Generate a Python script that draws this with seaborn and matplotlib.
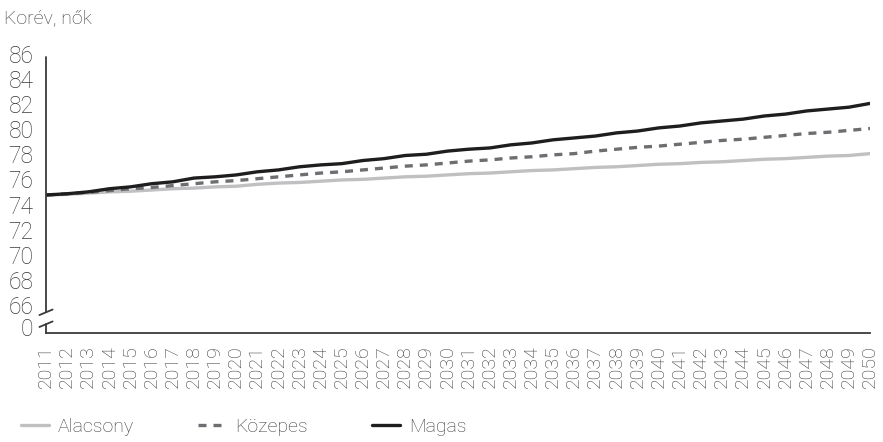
import matplotlib.pyplot as plt
import matplotlib.transforms as mtransforms
import pandas as pd
import seaborn as sns

years = list(range(2011, 2051))

alacsony = [75.0, 75.05, 75.15, 75.25, 75.3, 75.4, 75.5, 75.55, 75.65, 75.7,
            75.85, 75.95, 76.0, 76.1, 76.2, 76.25, 76.35, 76.45, 76.5, 76.6,
            76.7, 76.75, 76.85, 76.95, 77.0, 77.1, 77.2, 77.25, 77.35, 77.45,
            77.5, 77.6, 77.65, 77.75, 77.85, 77.9, 78.0, 78.1, 78.15, 78.3]
kozepes = [75.0, 75.1, 75.2, 75.35, 75.5, 75.6, 75.75, 75.9, 76.05, 76.15,
           76.3, 76.45, 76.6, 76.75, 76.85, 77.0, 77.15, 77.3, 77.4, 77.55,
           77.7, 77.8, 77.95, 78.05, 78.2, 78.3, 78.5, 78.65, 78.8, 78.9,
           79.05, 79.2, 79.35, 79.45, 79.6, 79.75, 79.9, 80.0, 80.15, 80.3]
magas = [75.0, 75.1, 75.25, 75.5, 75.65, 75.9, 76.05, 76.35, 76.45, 76.6,
         76.85, 77.0, 77.25, 77.4, 77.5, 77.75, 77.9, 78.15, 78.25, 78.5,
         78.65, 78.75, 79.0, 79.15, 79.4, 79.55, 79.7, 79.95, 80.1, 80.35,
         80.5, 80.75, 80.9, 81.05, 81.3, 81.45, 81.7, 81.85, 82.0, 82.3]

series_names = ["Alacsony", "Közepes", "Magas"]
y_ticks = [64.2, 66, 68, 70, 72, 74, 76, 78, 80, 82, 84, 86]
y_labels = ["0", "66", "68", "70", "72", "74", "76", "78", "80", "82", "84", "86"]

df = pd.DataFrame({
    "ev": years * 3,
    "korev": alacsony + kozepes + magas,
    "valtozat": [n for n in series_names for _ in years],
})

sns.set_style("white")
plt.rcParams["font.family"] = ["Roboto", "DejaVu Sans"]
plt.rcParams["font.weight"] = "light"
text_col = "#3a3a3a"

fig = plt.figure(figsize=(8.83, 4.42), dpi=100)
ax = fig.add_axes([0.0521, 0.2466, 0.9332, 0.6244])

palette = {"Alacsony": "#c0c0c2", "Közepes": "#6d6e71", "Magas": "#1f1d1e"}
dashes = {"Alacsony": "", "Közepes": (2.4, 2.1), "Magas": ""}
sns.lineplot(data=df, x="ev", y="korev", hue="valtozat", style="valtozat",
             palette=palette, dashes=dashes, linewidth=2.4, ax=ax, legend=True)

ax.set_xlim(2011, 2050)
ax.set_ylim(64, 86)
ax.set_xticks(years)
ax.set_xticklabels([str(y) for y in years], rotation=90, fontsize=14, color=text_col)
ax.set_yticks(y_ticks)
ax.set_yticklabels(y_labels, fontsize=16.5, color=text_col)
ax.set_xlabel("")
ax.set_ylabel("")
ax.tick_params(axis="both", direction="out", length=6, width=1.3, color=text_col, pad=3)

# y labels sit a little above their ticks in the original
shift = mtransforms.ScaledTranslation(0, 0.03, fig.dpi_scale_trans)
for lab in ax.get_yticklabels():
    lab.set_transform(lab.get_transform() + shift)

for s in ["top", "right", "left"]:
    ax.spines[s].set_visible(False)
ax.spines["bottom"].set_color(text_col)
ax.spines["bottom"].set_linewidth(1.3)

# broken y axis
tr = mtransforms.blended_transform_factory(ax.transAxes, ax.transData)
ax.plot([0, 0], [65.65, 86], transform=tr, color=text_col, lw=1.3, clip_on=False)
ax.plot([0, 0], [64, 64.7], transform=tr, color=text_col, lw=1.3, clip_on=False)
for yb in [65.65, 64.7]:
    ax.plot([-0.008, 0.008], [yb - 0.22, yb + 0.22], transform=tr,
            color=text_col, lw=1.3, clip_on=False)

fig.text(0.005, 0.958, "Korév, nők", fontsize=14, color=text_col, va="center")

handles, labels = ax.get_legend_handles_labels()
ax.get_legend().remove()
fig.legend(handles, labels, loc="center left", bbox_to_anchor=(0.004, 0.035),
           ncol=3, frameon=False, fontsize=14, handlelength=1.45,
           columnspacing=3.3, handletextpad=0.45, labelcolor=text_col)

fig.savefig("out.png", dpi=100)
plt.close(fig)
